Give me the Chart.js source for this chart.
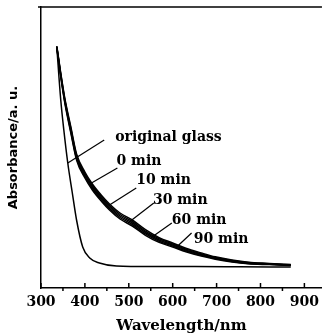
<!DOCTYPE html>
<html>
<head>
<meta charset="utf-8">
<script src="https://cdn.jsdelivr.net/npm/chart.js@4"></script>
<style>
  html, body { margin: 0; padding: 0; background: #fff; }
  #wrap { width: 325px; height: 335px; }
</style>
</head>
<body>
<div id="wrap"><canvas id="absChart"></canvas></div>
<script>
// Data (wavelength in nm, absorbance in arbitrary units)
const wavelengths = [336, 345, 354, 368, 381, 400, 417, 437, 456, 480, 508, 538, 569, 600, 630, 665, 697, 735, 772, 820, 869];
const abs0min  = [2.40, 2.11, 1.856, 1.55, 1.28, 1.10, 0.98, 0.87, 0.78, 0.69, 0.62, 0.527, 0.456, 0.41, 0.362, 0.319, 0.288, 0.26, 0.242, 0.234, 0.226];
const abs10min = [2.405, 2.12, 1.868, 1.565, 1.295, 1.115, 0.995, 0.885, 0.795, 0.705, 0.635, 0.541, 0.468, 0.42, 0.371, 0.327, 0.294, 0.265, 0.246, 0.237, 0.228];
const abs30min = [2.41, 2.13, 1.88, 1.58, 1.31, 1.13, 1.01, 0.90, 0.81, 0.72, 0.65, 0.555, 0.48, 0.43, 0.38, 0.335, 0.30, 0.27, 0.25, 0.24, 0.23];
const abs60min = [2.415, 2.14, 1.892, 1.595, 1.325, 1.145, 1.025, 0.915, 0.825, 0.735, 0.665, 0.569, 0.492, 0.44, 0.389, 0.343, 0.306, 0.275, 0.254, 0.243, 0.232];
const abs90min = [2.42, 2.15, 1.904, 1.61, 1.34, 1.16, 1.04, 0.93, 0.84, 0.75, 0.68, 0.583, 0.504, 0.45, 0.398, 0.351, 0.312, 0.28, 0.258, 0.246, 0.234];

const glassWavelengths = [336, 345, 352, 361, 371, 381, 395, 411, 433, 472, 550, 650, 750, 869];
const absGlass = [2.41, 1.88, 1.58, 1.25, 0.96, 0.68, 0.41, 0.30, 0.25, 0.22, 0.215, 0.215, 0.213, 0.21];

const majorTicks = [300, 400, 500, 600, 700, 800, 900];
const minorTicks = [350, 450, 550, 650, 750, 850];

// Curve labels with their leader lines (in data units)
const curveLabels = ['original glass', '0 min', '10 min', '30 min', '60 min', '90 min'];
const labelPos   = [[469, 1.51], [472, 1.27], [517, 1.08], [555, 0.88], [598, 0.68], [648, 0.49]];
const leaderFrom = [[361, 1.25], [415, 1.05], [456, 0.83], [501, 0.66], [553, 0.51], [609, 0.41]];
const leaderTo   = [[444, 1.48], [474, 1.20], [517, 1.00], [557, 0.85], [598, 0.65], [643, 0.55]];

function toPoints(xs, ys) {
    return xs.map((x, i) => ({ x: x, y: ys[i] }));
}

function series(label, xs, ys) {
    return {
        label: label,
        data: toPoints(xs, ys),
        borderColor: '#000',
        borderWidth: 1.5,
        pointRadius: 0,
        fill: false,
        cubicInterpolationMode: 'monotone'
    };
}

// Frame, inward tick marks and curve labels
const framePlugin = {
    id: 'frame',
    afterDraw(chart) {
        const ctx = chart.ctx;
        const area = chart.chartArea;
        const xs = chart.scales.x;
        const ys = chart.scales.y;
        ctx.save();
        ctx.strokeStyle = '#000';
        ctx.lineWidth = 1.5;
        ctx.beginPath();
        ctx.moveTo(area.left - 3, area.top);
        ctx.lineTo(area.right, area.top);
        ctx.stroke();

        majorTicks.forEach(v => {
            const px = xs.getPixelForValue(v);
            ctx.beginPath();
            ctx.moveTo(px, area.bottom);
            ctx.lineTo(px, area.bottom - 5);
            ctx.stroke();
        });
        minorTicks.forEach(v => {
            const px = xs.getPixelForValue(v);
            ctx.beginPath();
            ctx.moveTo(px, area.bottom);
            ctx.lineTo(px, area.bottom + 3);
            ctx.stroke();
        });

        ctx.lineWidth = 1.2;
        ctx.fillStyle = '#000';
        ctx.font = 'bold 14px "DejaVu Serif"';
        ctx.textBaseline = 'middle';
        ctx.textAlign = 'left';
        curveLabels.forEach((text, i) => {
            ctx.beginPath();
            ctx.moveTo(xs.getPixelForValue(leaderFrom[i][0]), ys.getPixelForValue(leaderFrom[i][1]));
            ctx.lineTo(xs.getPixelForValue(leaderTo[i][0]), ys.getPixelForValue(leaderTo[i][1]));
            ctx.stroke();
            ctx.fillText(text, xs.getPixelForValue(labelPos[i][0]), ys.getPixelForValue(labelPos[i][1]));
        });
        ctx.restore();
    }
};

const chartCtx = document.getElementById('absChart');
new Chart(chartCtx, {
    type: 'line',
    data: {
        datasets: [
            series('original glass', glassWavelengths, absGlass),
            series('0 min', wavelengths, abs0min),
            series('10 min', wavelengths, abs10min),
            series('30 min', wavelengths, abs30min),
            series('60 min', wavelengths, abs60min),
            series('90 min', wavelengths, abs90min)
        ]
    },
    options: {
        responsive: true,
        maintainAspectRatio: false,
        animation: false,
        layout: { padding: { top: 7, right: 0, left: 0, bottom: 0 } },
        plugins: {
            legend: { display: false },
            tooltip: { enabled: false }
        },
        scales: {
            x: {
                type: 'linear',
                min: 300,
                max: 940,
                afterBuildTicks: function(scale) {
                    scale.ticks = majorTicks.map(v => ({ value: v }));
                },
                afterFit: function(scale) {
                    scale.height = 47;
                },
                grid: { display: false, drawTicks: false },
                border: { display: true, color: '#000', width: 1.5 },
                ticks: {
                    color: '#000',
                    padding: 6,
                    maxRotation: 0,
                    autoSkip: false,
                    font: { family: 'DejaVu Serif', size: 14, weight: 'bold' }
                },
                title: {
                    display: true,
                    text: 'Wavelength/nm',
                    color: '#000',
                    padding: { top: 0, bottom: 0 },
                    font: { family: 'DejaVu Serif', size: 15, weight: 'bold' }
                }
            },
            y: {
                min: 0,
                max: 2.81,
                afterFit: function(scale) {
                    scale.width = 41;
                },
                grid: { display: false, drawTicks: false },
                border: { display: true, color: '#000', width: 1.5 },
                ticks: { display: false },
                title: {
                    display: true,
                    text: 'Absorbance/a. u.',
                    color: '#000',
                    padding: { top: 6, bottom: 0 },
                    font: { family: 'DejaVu Sans', size: 13, weight: 'bold' }
                }
            }
        }
    },
    plugins: [framePlugin]
});
</script>
</body>
</html>
